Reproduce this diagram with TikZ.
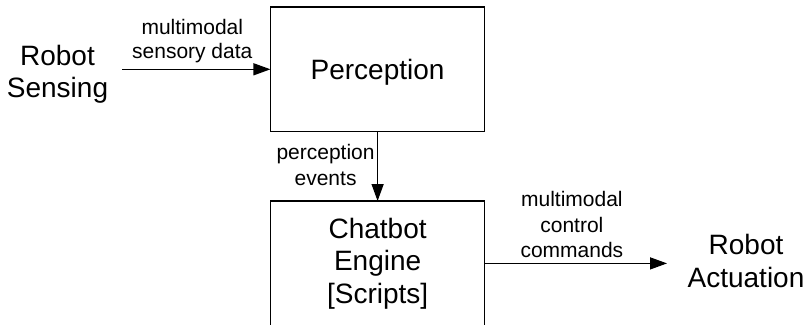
\documentclass[tikz,border=0pt]{standalone}
\usepackage{fontspec}
\setmainfont{Liberation Sans}
\usetikzlibrary{arrows.meta}
\tikzset{
  bigtext/.style={font=\fontsize{28}{32.5}\selectfont, align=center, outer sep=0pt},
  smalltext/.style={font=\fontsize{21}{25.5}\selectfont, align=center, inner sep=3pt, outer sep=0pt},
  blockbox/.style={draw, line width=1.3pt, minimum width=214.3pt, minimum height=124.7pt,
    inner sep=0pt, outer sep=0pt, font=\fontsize{28}{32.5}\selectfont, align=center},
  arr/.style={line width=1.3pt, -{Triangle[length=17pt,width=12pt]}}
}
\begin{document}
\begin{tikzpicture}[x=1pt, y=-1pt]
\clip (0,0) rectangle (810,324);
\node[blockbox, text height=20pt, text depth=0pt] (perc) at (377.6,69.3) {Perception};
\node[blockbox] (chat) at (377.6,263.4) {Chatbot\\Engine\\{[}Scripts{]}};
\node[bigtext, inner xsep=14pt] (sensing) at (57.5,74.4) {Robot\\Sensing};
\node[bigtext, inner xsep=20.6pt] (actuation) at (746,260.8) {Robot\\Actuation};
\draw[arr] (sensing.east |- perc.west) -- node[smalltext, above, xshift=-4pt, yshift=3.5pt, font=\fontsize{21}{24}\selectfont] (l1) {multimodal\\sensory data} (perc.west);
\draw[arr] (perc.south) -- node[smalltext, left, yshift=1.5pt] (l2) {perception\\events} (chat.north);
\draw[arr] (chat.east) -- node[smalltext, above, xshift=-4pt, yshift=2.5pt] (l3) {multimodal\\control\\commands} (actuation.west |- chat.east);
\end{tikzpicture}
\end{document}
